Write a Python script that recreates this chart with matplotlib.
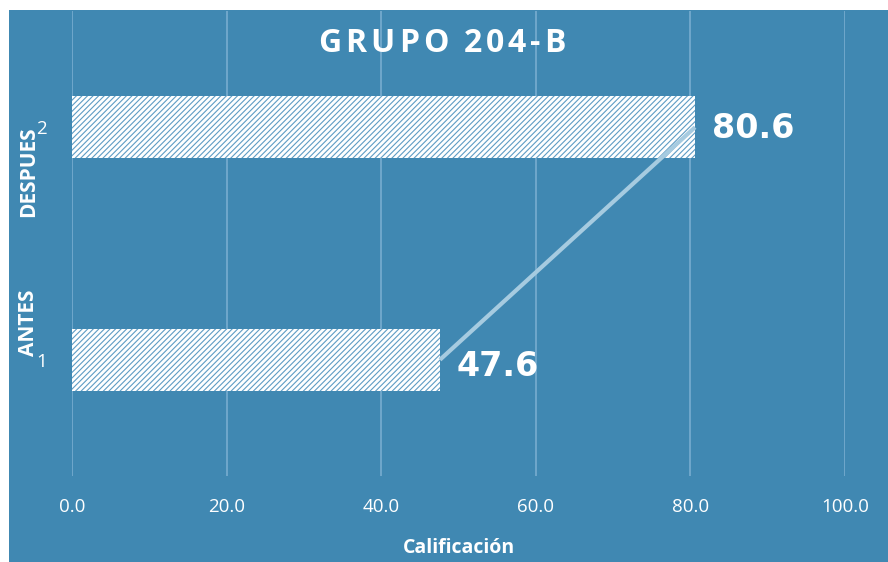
import numpy as np
import matplotlib
matplotlib.use('Agg')
import matplotlib.pyplot as plt
from matplotlib.patches import Rectangle
from matplotlib.transforms import blended_transform_factory

# data
categories = ['ANTES', 'DESPUES']
tick_numbers = ['1', '2']
scores = [47.6, 80.6]
x_ticks = [0, 20, 40, 60, 80, 100]
title = 'GRUPO 204-B'

BG = '#4088B2'
GRID = '#78ADCF'
LINE = '#A6CBE0'
HATCH = '#5E9CC4'

plt.rcParams['hatch.linewidth'] = 0.8
plt.rcParams['hatch.color'] = HATCH

W, H = 888, 562
fig = plt.figure(figsize=(W / 100, H / 100), dpi=100)
fig.patch.set_facecolor('white')
fig.patches.append(Rectangle((9 / W, 0), 1 - 9 / W, 1 - 10 / H, transform=fig.transFigure,
                             facecolor=BG, edgecolor='none', zorder=-10))

ax = fig.add_axes([72 / W, 1 - 476 / H, (845 - 72) / W, (476 - 11) / H])
ax.set_facecolor('none')

ypos = np.arange(1, len(scores) + 1)
ax.barh(ypos, scores, height=0.267, color='white', hatch='//////', edgecolor=HATCH,
        linewidth=0, zorder=2)
ax.plot(scores, ypos, color=LINE, lw=3, solid_capstyle='butt', zorder=3)

for y, v in zip(ypos, scores):
    ax.annotate(f'{v:.1f}', (v, y), xytext=(12, -5 if y == 1 else -1), textcoords='offset points',
                ha='left', va='center', color='white', fontsize=24, fontweight='bold',
                family='DejaVu Sans')

ax.set_xlim(0, 100)
ax.set_ylim(0.5, 2.5)
ax.set_xticks(x_ticks)
ax.set_xticklabels([f'{t:.1f}' for t in x_ticks], family='Open Sans', fontsize=13.5, color='white')
ax.tick_params(axis='x', length=0, pad=16)
ax.set_yticks(ypos)
ax.set_yticklabels(tick_numbers, family='Open Sans', fontsize=13.5, color='white')
ax.tick_params(axis='y', length=0, pad=18)
ax.grid(axis='x', color=GRID, lw=1.2)
ax.set_axisbelow(True)
for s in ax.spines.values():
    s.set_visible(False)

# rotated category names
trans = blended_transform_factory(fig.transFigure, ax.transData)
for name, yl in zip(categories, [1.16, 1.81]):
    ax.text(29 / W, yl, name, transform=trans, rotation=90, ha='center', va='center',
            color='white', fontsize=15, fontweight='bold', family='Open Sans')

ax.set_xlabel('Calificación', family='Open Sans', fontsize=14, fontweight='bold', color='white',
              labelpad=16)

# letter-spaced title
renderer = fig.canvas.get_renderer()
spacing = 4.0
tkw = dict(color='white', fontsize=23, fontweight='bold', family='Open Sans', va='baseline')
widths = []
for ch in title:
    t = fig.text(0, 0, ch if ch != ' ' else 'a', **tkw)
    widths.append(t.get_window_extent(renderer).width if ch != ' ' else 7.0)
    t.remove()
total = sum(widths) + spacing * (len(title) - 1)
x = 442 - total / 2
for ch, w in zip(title, widths):
    if ch != ' ':
        fig.text(x / W, 1 - 52 / H, ch, ha='left', **tkw)
    x += w + spacing

fig.savefig('out.png', dpi=100, facecolor=fig.get_facecolor())
